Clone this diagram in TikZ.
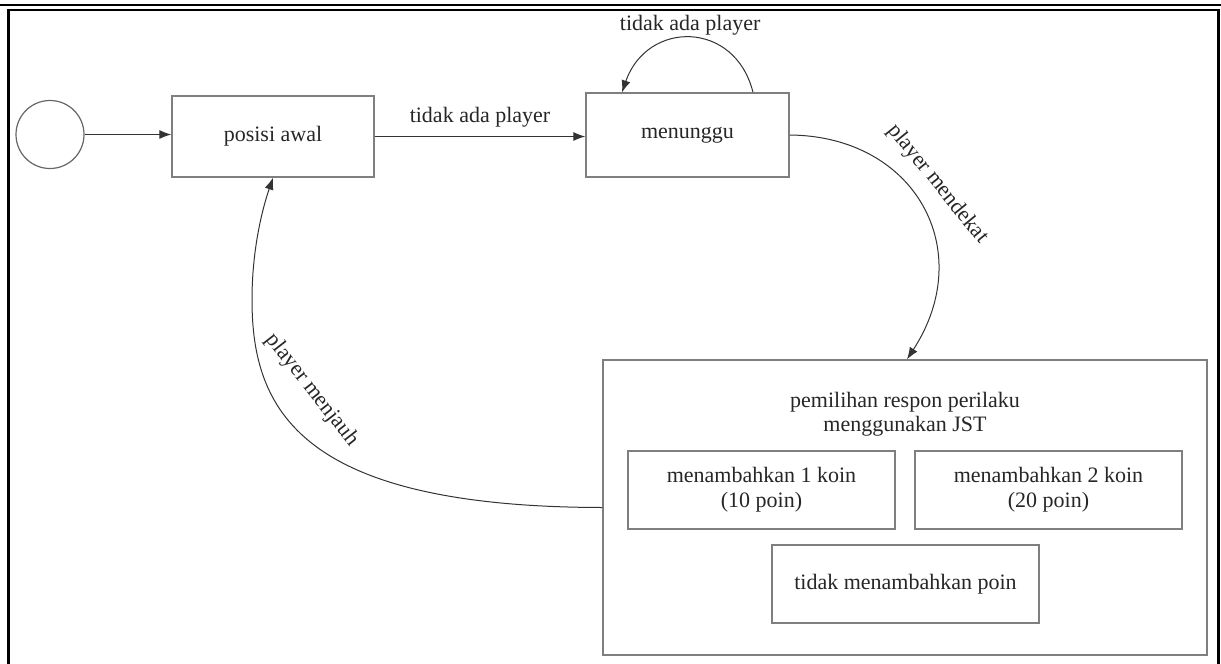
\documentclass[tikz,border=0pt]{standalone}
\usepackage{fontspec}
\setmainfont{Liberation Serif}
\usetikzlibrary{arrows.meta}
\definecolor{boxgray}{HTML}{7F7F7F}
\definecolor{edgec}{HTML}{333333}
\definecolor{txt}{HTML}{262626}
\begin{document}
\begin{tikzpicture}[x=1pt,y=-1pt,
  every node/.style={text=txt,font=\fontsize{22}{25}\selectfont},
  box/.style={draw=boxgray,line width=1.3pt,inner sep=0pt,align=center},
  edge/.style={draw=edgec,line width=1pt,-{Latex[length=12pt,width=9pt]}},
  lbl/.style={inner sep=2pt}]
\useasboundingbox (0,0) rectangle (1221,664);
\clip (0,0) rectangle (1221,664);
% page rule and frame
\draw[line width=2.5pt] (0,5) -- (1221,5);
\draw[line width=2.2pt] (8.5,700) -- (8.5,10) -- (1218.5,10) -- (1218.5,700);
% states
\node[circle,draw=boxgray!80!black,line width=1.2pt,minimum size=68pt,inner sep=0pt] (start) at (50,134.5) {};
\node[box,minimum width=202pt,minimum height=81pt] (awal) at (273,136.5) {posisi awal};
\node[box,minimum width=203pt,minimum height=84pt] (tunggu) at (687.5,135) {menunggu};
\node[box,minimum width=604pt,minimum height=295pt] (pilih) at (905,507.5) {};
\node[align=center,font=\fontsize{22}{23.5}\selectfont] (judul) at (905,414) {pemilihan respon perilaku\\menggunakan JST};
\node[box,minimum width=267pt,minimum height=78pt] (k1) at (761.5,490) {menambahkan 1 koin\\(10 poin)};
\node[box,minimum width=267pt,minimum height=78pt] (k2) at (1048.5,490) {menambahkan 2 koin\\(20 poin)};
\node[box,minimum width=267pt,minimum height=78pt] (k0) at (905.5,584) {tidak menambahkan poin};
% transitions
\draw[edge] (start.east) -- (start.east -| awal.west);
\draw[edge] (awal.east) -- node[lbl,above=7pt] (l1) {tidak ada player} (awal.east -| tunggu.west);
\draw[edge] ([xshift=65.5pt]tunggu.north) .. controls (735,20) and (647,20) .. node[lbl,above=0pt] (l2) {tidak ada player} ([xshift=-65.5pt]tunggu.north);
\draw[edge] (tunggu.east) .. controls (915,136) and (978,250) .. ([xshift=2pt]pilih.north);
\node[lbl,rotate=-51] (l3) at (938,184) {player mendekat};
\draw[edge] (pilih.west) .. controls (300,507) and (252,410) .. (252,300) .. controls (252,250) and (262,210) .. (awal.south);
\node[lbl,rotate=-52] (l4) at (312,390) {player menjauh};
\end{tikzpicture}
\end{document}
